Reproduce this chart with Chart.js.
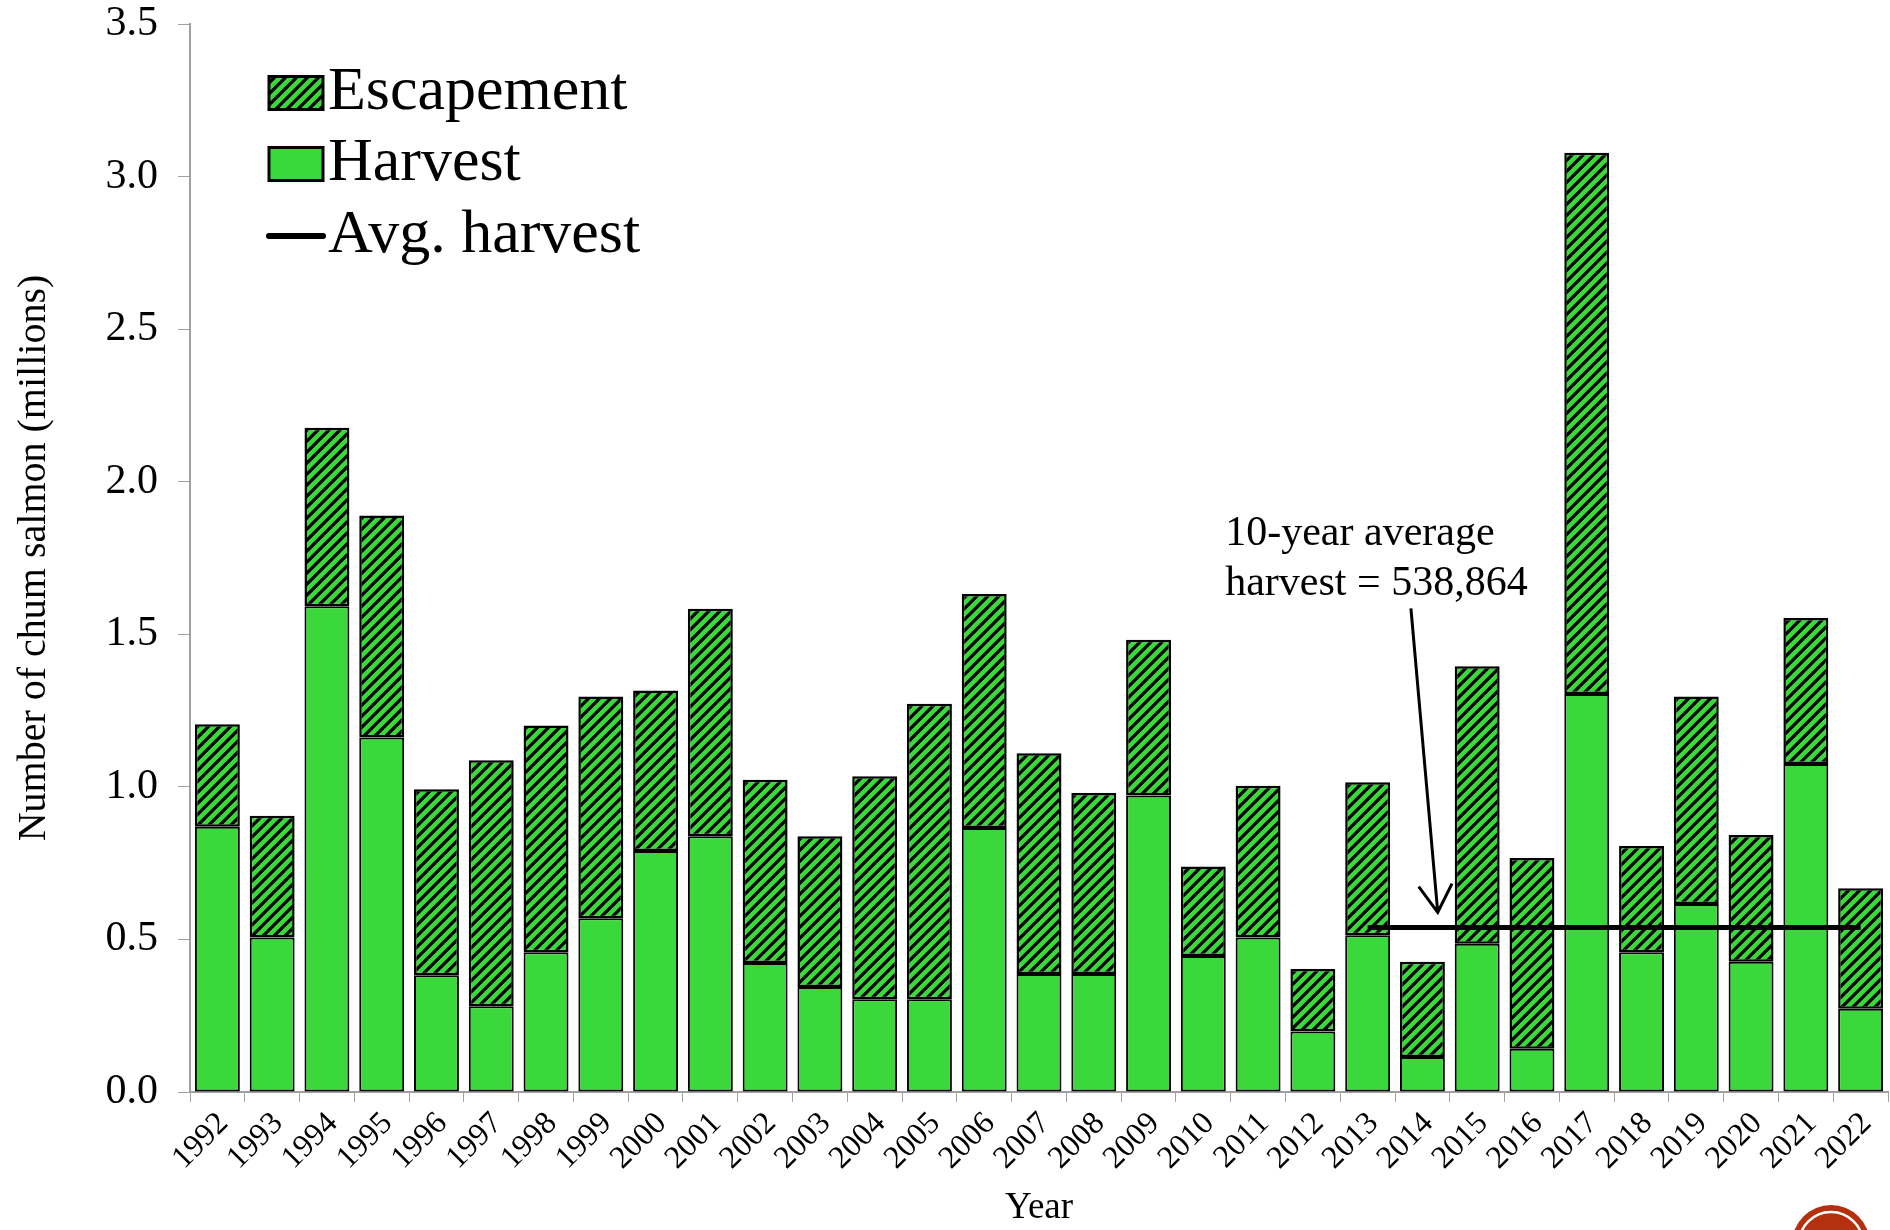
<!DOCTYPE html>
<html>
<head>
<meta charset="utf-8">
<script src="https://cdn.jsdelivr.net/npm/chart.js@4"></script>
<style>
  html, body { margin: 0; padding: 0; background: #fff; }
  canvas { display: block; }
</style>
</head>
<body>
<canvas id="chumChart" width="1890" height="1230"></canvas>
<script>
// values, millions of fish
const years = ['1992', '1993', '1994', '1995', '1996', '1997', '1998', '1999', '2000', '2001',
    '2002', '2003', '2004', '2005', '2006', '2007', '2008', '2009', '2010', '2011',
    '2012', '2013', '2014', '2015', '2016', '2017', '2018', '2019', '2020', '2021', '2022'];
const harvest = [0.869, 0.506, 1.592, 1.162, 0.383, 0.281, 0.458, 0.569, 0.790, 0.838,
    0.423, 0.344, 0.304, 0.304, 0.865, 0.387, 0.387, 0.972, 0.446, 0.506,
    0.198, 0.514, 0.115, 0.486, 0.142, 1.304, 0.458, 0.616, 0.427, 1.075, 0.273];
const escapement = [0.336, 0.399, 0.585, 0.727, 0.609, 0.806, 0.743, 0.727, 0.526, 0.746,
    0.600, 0.494, 0.731, 0.968, 0.767, 0.723, 0.593, 0.510, 0.293, 0.498,
    0.205, 0.501, 0.312, 0.909, 0.625, 1.774, 0.348, 0.680, 0.415, 0.478, 0.395];
// 10-year average harvest (2013-2022) = 538,864
const avgHarvest = [null, null, null, null, null, null, null, null, null, null,
    null, null, null, null, null, null, null, null, null, null,
    null, 0.538864, 0.538864, 0.538864, 0.538864, 0.538864, 0.538864, 0.538864, 0.538864, 0.538864, 0.538864];
const yTicks = [0, 0.5, 1.0, 1.5, 2.0, 2.5, 3.0, 3.5];

const GREEN = '#3bd83b';
const SERIF = '"Liberation Serif", "Times New Roman", serif';

function makeHatch() {
    const s = 11;
    const c = document.createElement('canvas');
    c.width = s; c.height = s;
    const g = c.getContext('2d');
    g.fillStyle = GREEN;
    g.fillRect(0, 0, s, s);
    g.strokeStyle = '#000';
    g.lineWidth = 3.2;
    g.beginPath();
    g.moveTo(-2, s + 2); g.lineTo(s + 2, -2);
    g.moveTo(-2, 2); g.lineTo(2, -2);
    g.moveTo(s - 2, s + 2); g.lineTo(s + 2, s - 2);
    g.stroke();
    return g.createPattern(c, 'repeat');
}
const hatch = makeHatch();

// legend drawn inside the plot, top left
const legendInside = {
    id: 'legendInside',
    afterDraw(chart) {
        const ctx = chart.ctx;
        const a = chart.chartArea;
        const bx = a.left + 79, bw = 54, bh = 33;
        const rows = [a.top + 69, a.top + 140, a.top + 212];
        ctx.save();
        ctx.font = '62px ' + SERIF;
        ctx.textBaseline = 'middle';

        ctx.fillStyle = hatch;
        ctx.fillRect(bx, rows[0] - bh / 2, bw, bh);
        ctx.strokeStyle = '#000';
        ctx.lineWidth = 3;
        ctx.strokeRect(bx, rows[0] - bh / 2, bw, bh);

        ctx.fillStyle = GREEN;
        ctx.fillRect(bx, rows[1] - bh / 2, bw, bh);
        ctx.strokeRect(bx, rows[1] - bh / 2, bw, bh);

        ctx.lineWidth = 6;
        ctx.lineCap = 'round';
        ctx.beginPath();
        ctx.moveTo(bx, rows[2]); ctx.lineTo(bx + bw, rows[2]);
        ctx.stroke();

        ctx.fillStyle = '#000';
        const labels = chart.data.datasets.map(d => d.label);
        ctx.fillText(labels[1], bx + bw + 5, rows[0]);
        ctx.fillText(labels[0], bx + bw + 5, rows[1]);
        ctx.fillText(labels[2], bx + bw + 5, rows[2]);
        ctx.restore();
    }
};

// text + arrow pointing at the average line
const avgNote = {
    id: 'avgNote',
    afterDatasetsDraw(chart) {
        const ctx = chart.ctx;
        const x = chart.scales.x, y = chart.scales.y;
        const step = x.getPixelForValue(1) - x.getPixelForValue(0);
        const px = i => x.getPixelForValue(0) + i * step;
        ctx.save();
        ctx.fillStyle = '#000';
        ctx.font = '42px ' + SERIF;
        ctx.textBaseline = 'middle';
        ctx.fillText('10-year average', px(18.4), y.getPixelForValue(1.83));
        ctx.fillText('harvest = 538,864', px(18.4), y.getPixelForValue(1.665));

        const x0 = px(21.79), y0 = y.getPixelForValue(1.585);
        const x1 = px(22.28), y1 = y.getPixelForValue(0.589);
        ctx.strokeStyle = '#000';
        ctx.lineWidth = 3;
        ctx.beginPath();
        ctx.moveTo(x0, y0); ctx.lineTo(x1, y1);
        const ang = Math.atan2(y1 - y0, x1 - x0);
        const hl = 32, spread = 0.55;
        ctx.moveTo(x1 - hl * Math.cos(ang - spread), y1 - hl * Math.sin(ang - spread));
        ctx.lineTo(x1, y1);
        ctx.lineTo(x1 - hl * Math.cos(ang + spread), y1 - hl * Math.sin(ang + spread));
        ctx.stroke();
        ctx.restore();
    }
};

// partial round logo in the bottom right corner
const cornerLogo = {
    id: 'cornerLogo',
    afterDraw(chart) {
        const ctx = chart.ctx;
        ctx.save();
        ctx.fillStyle = '#b5300e';
        ctx.beginPath();
        ctx.arc(1831, 1244, 39, 0, Math.PI * 2);
        ctx.fill();
        ctx.strokeStyle = '#fff';
        ctx.lineWidth = 2.5;
        ctx.beginPath();
        ctx.arc(1831, 1244, 32, 0, Math.PI * 2);
        ctx.stroke();
        ctx.restore();
    }
};

new Chart(document.getElementById('chumChart'), {
    type: 'bar',
    data: {
        labels: years,
        datasets: [
            {
                label: 'Harvest',
                data: harvest,
                backgroundColor: GREEN,
                borderColor: '#000',
                borderWidth: 2,
                borderSkipped: false,
                stack: 'catch',
                order: 2,
                barPercentage: 0.82,
                categoryPercentage: 1.0
            },
            {
                label: 'Escapement',
                data: escapement,
                backgroundColor: hatch,
                borderColor: '#000',
                borderWidth: 2.5,
                borderSkipped: false,
                stack: 'catch',
                order: 2,
                barPercentage: 0.82,
                categoryPercentage: 1.0
            },
            {
                type: 'line',
                label: 'Avg. harvest',
                data: avgHarvest,
                borderColor: '#000',
                borderWidth: 5,
                pointRadius: 0,
                fill: false,
                spanGaps: false,
                stack: 'avg',
                order: 0
            }
        ]
    },
    options: {
        responsive: false,
        devicePixelRatio: 1,
        animation: false,
        layout: { padding: { top: 24, right: 2, left: 0, bottom: 0 } },
        plugins: {
            legend: { display: false },
            tooltip: { enabled: false }
        },
        scales: {
            x: {
                stacked: true,
                offset: true,
                grid: { display: true, drawOnChartArea: false, drawTicks: true, tickLength: 10, color: '#a0a0a0', offset: true },
                border: { display: true, color: '#a0a0a0', width: 2 },
                ticks: {
                    color: '#000',
                    font: { family: SERIF, size: 32 },
                    minRotation: 45,
                    maxRotation: 45,
                    autoSkip: false,
                    padding: 3,
                    labelOffset: 6
                },
                title: {
                    display: true,
                    text: 'Year',
                    color: '#000',
                    font: { family: SERIF, size: 37 },
                    padding: { top: 0, bottom: 0 }
                },
                afterFit(scale) {
                    scale.height = 138;
                    scale.paddingLeft = 0;
                    scale.paddingRight = 0;
                }
            },
            y: {
                stacked: true,
                min: 0,
                max: 3.5,
                afterBuildTicks(scale) { scale.ticks = yTicks.map(v => ({ value: v })); },
                grid: { display: true, drawOnChartArea: false, drawTicks: true, tickLength: 12, color: '#a0a0a0' },
                border: { display: true, color: '#a0a0a0', width: 2 },
                ticks: {
                    color: '#000',
                    font: { family: SERIF, size: 42 },
                    padding: 20,
                    callback: v => Number(v).toFixed(1)
                },
                title: {
                    display: true,
                    text: 'Number of chum salmon (millions)',
                    color: '#000',
                    font: { family: SERIF, size: 40 },
                    padding: { top: 10, bottom: 0 }
                },
                afterFit(scale) {
                    scale.width = 190;
                    scale.paddingTop = 0;
                    scale.paddingBottom = 0;
                }
            }
        }
    },
    plugins: [legendInside, avgNote, cornerLogo]
});
</script>
</body>
</html>
